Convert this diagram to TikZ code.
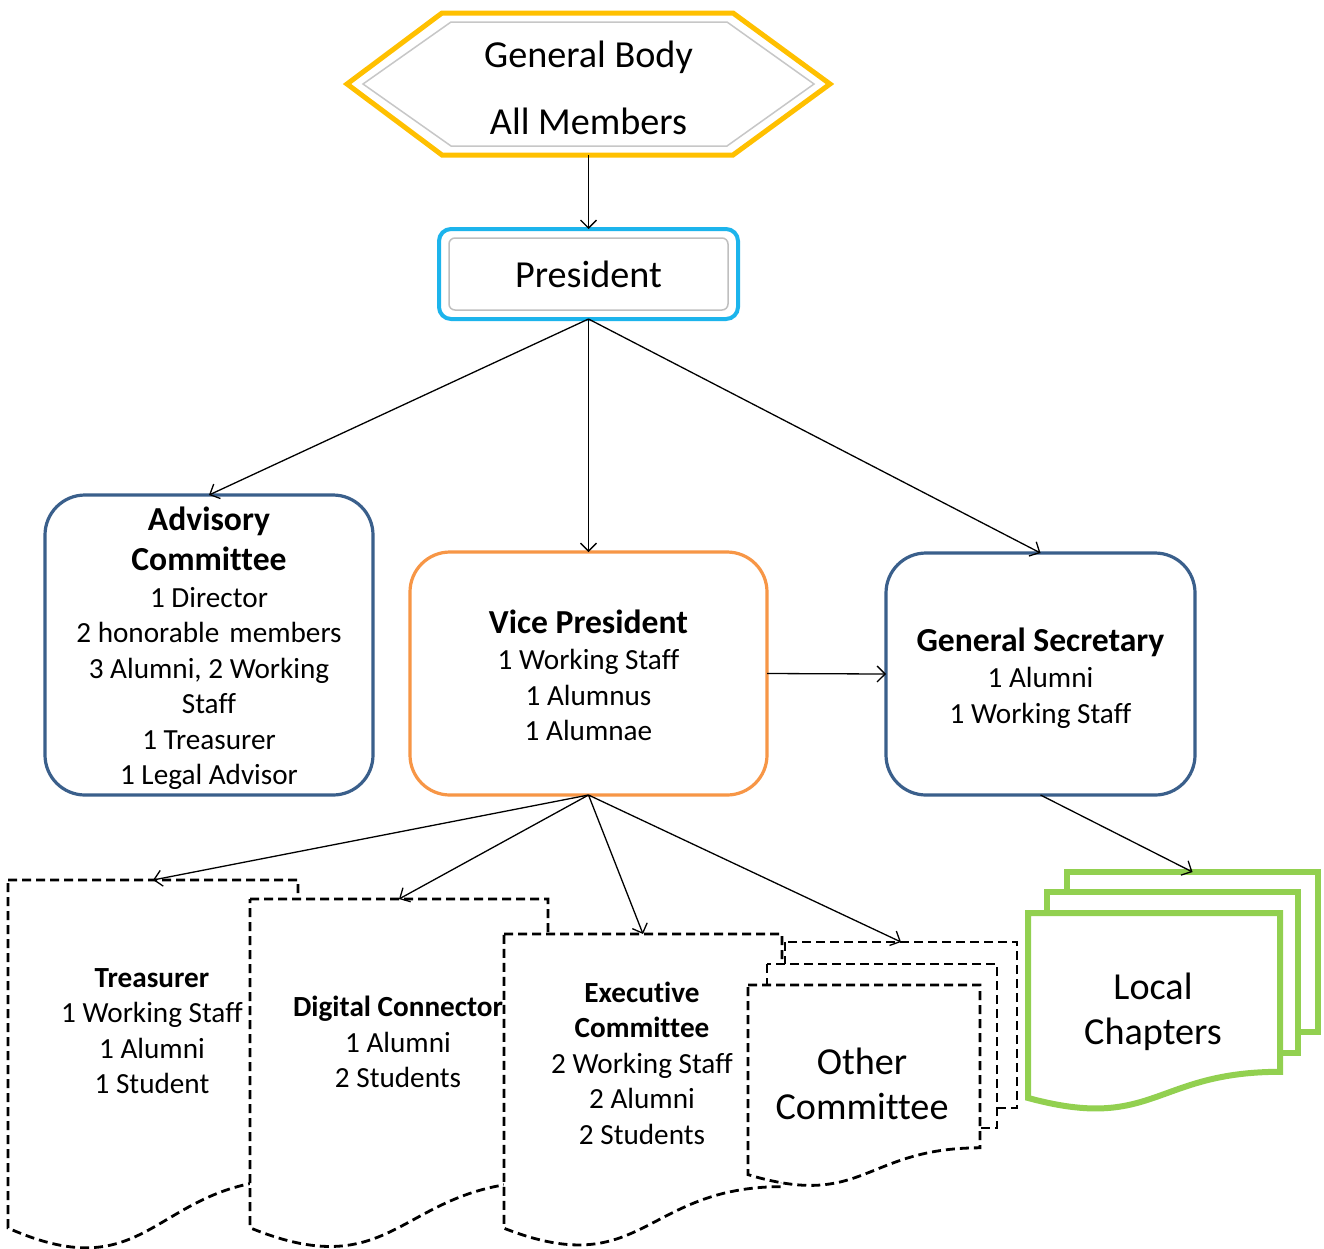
\documentclass[tikz,border=0pt]{standalone}
\usepackage{fontspec}
\setmainfont{Carlito}[Ligatures=NoCommon]
\usetikzlibrary{arrows.meta,calc}
\definecolor{cyel}{HTML}{FFC000}
\definecolor{ccyan}{HTML}{1CB4EC}
\definecolor{cblue}{HTML}{3A5F8B}
\definecolor{corange}{HTML}{F79646}
\definecolor{cgreen}{HTML}{92D050}
\newcommand\fbig{\fontsize{38.2}{45}\selectfont}
\newcommand\fhead{\fontsize{33.6}{40}\selectfont\bfseries}
\newcommand\fmid{\fontsize{29.2}{35.5}\selectfont}
\newcommand\docshp[2]{%
  \path[#2] (#1.north west) -- (#1.north east) -- ($(#1.north east)!0.802!(#1.south east)$)
    .. controls ($(#1.north)!0.802!(#1.south)$) and ($(#1.north)!1.107!(#1.south)$) ..
    ($(#1.north west)!0.934!(#1.south west)$) -- cycle;}
\tikzset{
  inv/.style={draw=none,rectangle,inner sep=0pt,outer sep=0pt},
  rbox/.style={rectangle,rounded corners=40pt,line width=3.2pt,fill=white,inner sep=0pt,outer sep=0pt},
  txt/.style={align=center,inner sep=0pt,font=\fmid},
  arr/.style={-{Straight Barb[length=8pt,width=16pt]},line width=1.3pt,black},
  dashd/.style={draw=black,fill=white,line width=2.8pt,dash pattern=on 9pt off 5pt},
  grn/.style={draw=cgreen,fill=white,line width=6pt},
}
\begin{document}
\begin{tikzpicture}[x=1pt,y=-1pt]
\useasboundingbox[fill=white] (0,0) rectangle (1324,1248);
% General Body hexagon
\path[draw=cyel,line width=5pt,fill=white,line join=miter]
  (347,84) -- (442,13) -- (733,13) -- (830,84) -- (733,155) -- (442,155) -- cycle;
\path[draw=black!22,line width=1.5pt]
  (363,84) -- (451,22) -- (727,22) -- (814,84) -- (727,146) -- (451,146) -- cycle;
\node[inv,minimum width=483pt,minimum height=142pt] (gb) at (588.5,84) {};
\node[txt,font=\fontsize{38.2}{67}\selectfont] (gbT) at (588.5,88) {General Body\\All Members};
% President
\node[rectangle,draw=ccyan,line width=4pt,rounded corners=12pt,minimum width=299pt,minimum height=90pt,inner sep=0pt,outer sep=0pt] (pres) at (588.5,274) {};
\draw[black!25,line width=1.5pt,rounded corners=6pt] (449,238) rectangle (728,310);
\node[txt,font=\fbig] (presT) at (588.5,274) {President};
% middle row
\node[rbox,draw=cblue,minimum width=328pt,minimum height=300pt] (adv) at (209,645) {};
\node[txt] (advT) at (209,648)
  {{\fhead Advisory}\\[5pt]{\fhead Committee}\\[1pt]1 Director\\2 honorable\hspace{0.12em} members\\3 Alumni, 2 Working\\Staff\\1 Treasurer\\1 Legal Advisor};
\node[rbox,draw=corange,minimum width=357pt,minimum height=243pt] (vp) at (588.5,673.5) {};
\node[txt] (vpT) at (588.5,675.5)
  {{\fhead Vice President}\\[1pt]1 Working Staff\\1 Alumnus\\1 Alumnae};
\node[rbox,draw=cblue,minimum width=309pt,minimum height=242pt] (gs) at (1040.5,674) {};
\node[txt] (gsT) at (1040.5,678)
  {{\fhead General Secretary}\\[1pt]1 Alumni\\1 Working Staff};
% bottom documents
\node[inv,minimum width=290pt,minimum height=372.6pt] (tre) at (153,1066.3) {};
\docshp{tre}{dashd}
\node[txt] (treT) at (152,1031) {\textbf{Treasurer}\\1 Working Staff\\1 Alumni\\1 Student};
\node[inv,minimum width=298pt,minimum height=352pt] (dig) at (399,1075) {};
\docshp{dig}{dashd}
\node[txt] (digT) at (398,1042) {\textbf{Digital Connector}\\1 Alumni\\2 Students};
\node[inv,minimum width=278pt,minimum height=315pt] (exe) at (643,1091.5) {};
\docshp{exe}{dashd}
\node[txt] (exeT) at (642,1063) {\textbf{Executive}\\\textbf{Committee}\\2 Working Staff\\2 Alumni\\2 Students};
% other committee (multi document)
\node[inv,minimum width=232pt,minimum height=166pt] (oth3) at (901,1025) {};
\path[dashd] (oth3.north west) rectangle (oth3.south east);
\node[inv,minimum width=230pt,minimum height=164pt] (oth2) at (882,1046) {};
\path[dashd] (oth2.north west) rectangle (oth2.south east);
\node[inv,minimum width=232pt,minimum height=203pt] (oth) at (864,1086.5) {};
\docshp{oth}{dashd}
\node[txt,font=\fbig] (othT) at (862,1084) {Other\\Committee};
% local chapters
\node[inv,minimum width=251pt,minimum height=160pt] (loc3) at (1192.5,952) {};
\path[grn] (loc3.north west) rectangle (loc3.south east);
\node[inv,minimum width=251pt,minimum height=161pt] (loc2) at (1172.5,972.5) {};
\path[grn] (loc2.north west) rectangle (loc2.south east);
\node[inv,minimum width=252pt,minimum height=198pt] (loc) at (1154,1012) {};
\docshp{loc}{grn}
\node[txt,font=\fbig] (locT) at (1153,1011.5) {Local\\Chapters};
% connectors
\draw[arr] (gb.south) -- (pres.north);
\draw[arr] (pres.south) -- (adv.north);
\draw[arr] (pres.south) -- (vp.north);
\draw[arr] (pres.south) -- (gs.north);
\draw[arr] (vp.east) -- (gs.west);
\draw[arr] (vp.south) -- (tre.north);
\draw[arr] (vp.south) -- (dig.north);
\draw[arr] (vp.south) -- (exe.north);
\draw[arr] (vp.south) -- (oth3.north);
\draw[arr] (gs.south) -- (loc3.north);
\end{tikzpicture}
\end{document}
